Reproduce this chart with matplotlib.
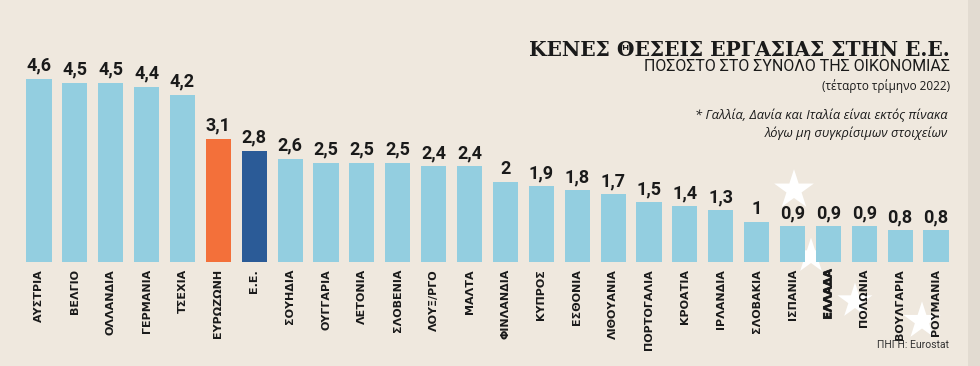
import matplotlib
matplotlib.use("Agg")
import matplotlib.pyplot as plt
import matplotlib.patheffects as pe
import numpy as np

countries = ["ΑΥΣΤΡΙΑ", "ΒΕΛΓΙΟ", "ΟΛΛΑΝΔΙΑ", "ΓΕΡΜΑΝΙΑ", "ΤΣΕΧΙΑ", "ΕΥΡΩΖΩΝΗ", "Ε.Ε.",
             "ΣΟΥΗΔΙΑ", "ΟΥΓΓΑΡΙΑ", "ΛΕΤΟΝΙΑ", "ΣΛΟΒΕΝΙΑ", "ΛΟΥΞ/ΡΓΟ", "ΜΑΛΤΑ", "ΦΙΝΛΑΝΔΙΑ",
             "ΚΥΠΡΟΣ", "ΕΣΘΟΝΙΑ", "ΛΙΘΟΥΑΝΙΑ", "ΠΟΡΤΟΓΑΛΙΑ", "ΚΡΟΑΤΙΑ", "ΙΡΛΑΝΔΙΑ",
             "ΣΛΟΒΑΚΙΑ", "ΙΣΠΑΝΙΑ", "ΕΛΛΑΔΑ", "ΠΟΛΩΝΙΑ", "ΒΟΥΛΓΑΡΙΑ", "ΡΟΥΜΑΝΙΑ"]
values = [4.6, 4.5, 4.5, 4.4, 4.2, 3.1, 2.8,
          2.6, 2.5, 2.5, 2.5, 2.4, 2.4, 2.0,
          1.9, 1.8, 1.7, 1.5, 1.4, 1.3,
          1.0, 0.9, 0.9, 0.9, 0.8, 0.8]

bg = "#efe8de"
light_blue = "#93cee0"
orange = "#f3703a"
dark_blue = "#2b5b97"

bar_colors = []
for c in countries:
    if c == "ΕΥΡΩΖΩΝΗ":
        bar_colors.append(orange)
    elif c == "Ε.Ε.":
        bar_colors.append(dark_blue)
    else:
        bar_colors.append(light_blue)

fig = plt.figure(figsize=(9.8, 3.66), dpi=100)
fig.patch.set_facecolor(bg)

# background layer in pixel coords (edge stripe + decorative stars)
bgax = fig.add_axes([0, 0, 1, 1], zorder=0)
bgax.set_xlim(0, 980)
bgax.set_ylim(366, 0)
bgax.axis("off")
bgax.axvspan(968, 980, color="#e2dbd1", lw=0)
star_x = [794, 811, 855, 922]
star_y = [190, 256, 301, 321]
bgax.scatter(star_x, star_y, marker="*", s=[900, 700, 700, 800], color="white", lw=0)

# main bars
ax = fig.add_axes([21 / 980, 1 - 262 / 366, 933 / 980, 199 / 366], zorder=1)
ax.patch.set_alpha(0)
x = np.arange(len(countries))
ax.bar(x, values, width=0.7, color=bar_colors)
ax.set_xlim(-0.5, len(countries) - 0.5)
ax.set_ylim(0, 5)
ax.axis("off")

for xi, v in zip(x, values):
    txt = ("%g" % v).replace(".", ",")
    ax.annotate(txt, (xi, v), xytext=(0, 3), textcoords="offset points",
                ha="center", va="bottom", family="Roboto", fontweight="bold",
                fontsize=13, color="#1a1a1a")

for xi, c in zip(x, countries):
    t = ax.annotate(c, (xi, 0), xytext=(0, -5), textcoords="offset points",
                    ha="center", va="top", rotation=90, fontsize=8, family="DejaVu Sans",
                    fontweight="bold", color="#1a1a1a")
    if c == "ΕΛΛΑΔΑ":
        t.set_path_effects([pe.withStroke(linewidth=0.5, foreground="#1a1a1a")])

# titles
fig.text(950 / 980, 1 - 56 / 366, "ΚΕΝΕΣ ΘΕΣΕΙΣ ΕΡΓΑΣΙΑΣ ΣΤΗΝ Ε.Ε.", ha="right", va="baseline",
         family="DejaVu Serif", fontweight="bold", fontsize=14.5, color="#1a1a1a")
fig.text(950 / 980, 1 - 71 / 366, "ΠΟΣΟΣΤΟ ΣΤΟ ΣΥΝΟΛΟ ΤΗΣ ΟΙΚΟΝΟΜΙΑΣ", ha="right", va="baseline",
         family="Roboto", fontsize=11.5, color="#1a1a1a")
fig.text(950 / 980, 1 - 86 / 366, "(τέταρτο τρίμηνο 2022)", ha="right", va="center",
         family="Open Sans", fontsize=8.5, color="#1a1a1a")
fig.text(948 / 980, 1 - 115 / 366, "* Γαλλία, Δανία και Ιταλία είναι εκτός πίνακα", ha="right",
         va="center", family="Open Sans", style="italic", fontsize=9.3, color="#1a1a1a")
fig.text(948 / 980, 1 - 133 / 366, "λόγω μη συγκρίσιμων στοιχείων", ha="right",
         va="center", family="Open Sans", style="italic", fontsize=9.3, color="#1a1a1a")
fig.text(949 / 980, 1 - 345 / 366, "ΠΗΓΗ: Eurostat", ha="right", va="center",
         family="Roboto", fontsize=7.5, color="#333333")

fig.savefig("out.png", dpi=100, facecolor=bg)
